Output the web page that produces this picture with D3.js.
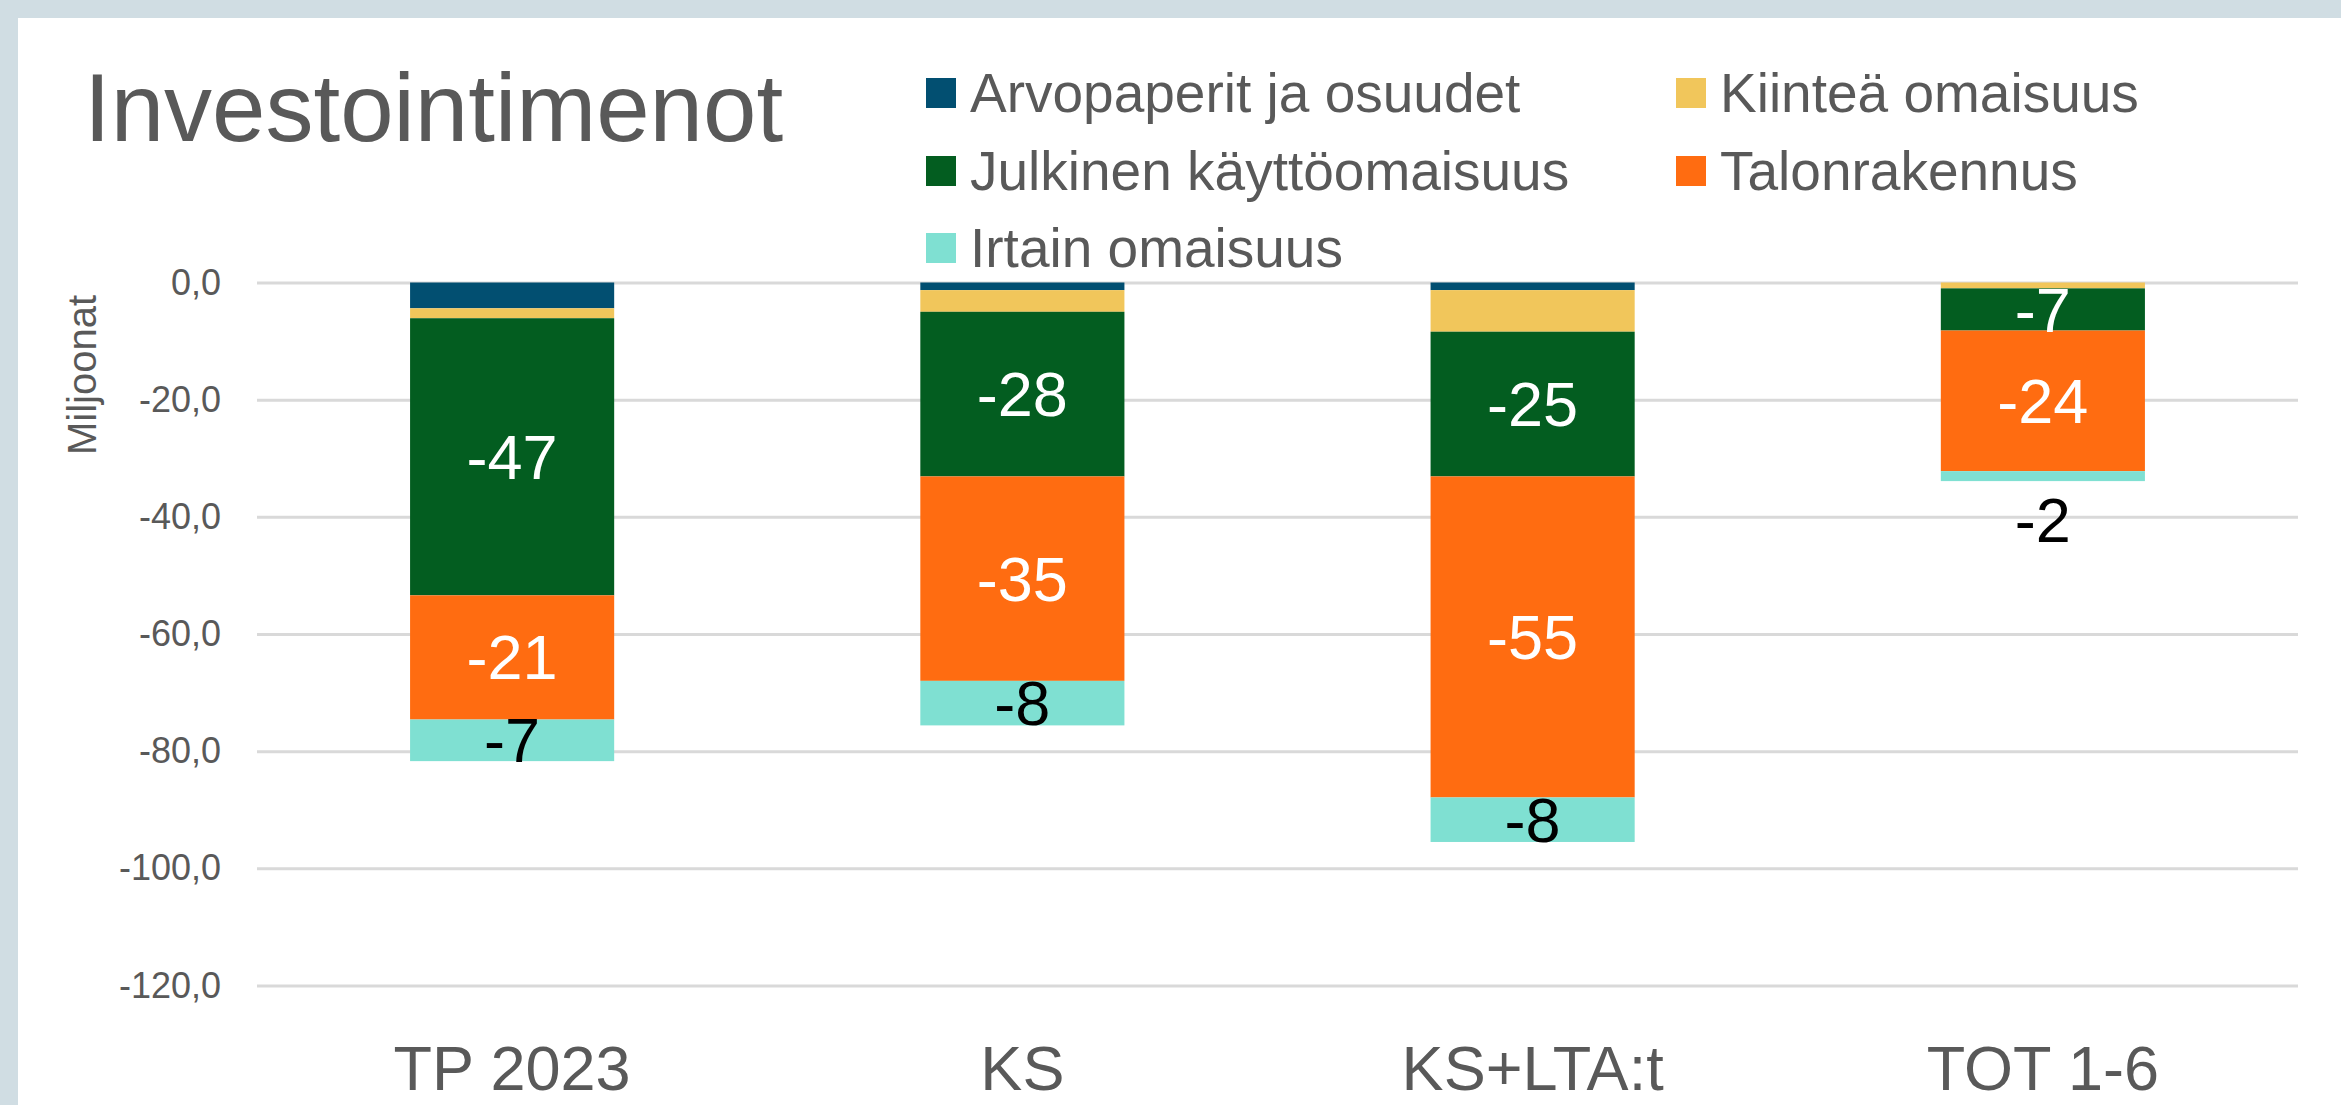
<!DOCTYPE html>
<html>
<head>
<meta charset="utf-8">
<script src="https://cdn.jsdelivr.net/npm/d3@7"></script>
<style>
  body { margin: 0; background: #d0dde3; }
  svg { display: block; font-family: "Liberation Sans", Arial, sans-serif; }
</style>
</head>
<body>
<div id="my_dataviz"></div>
<script>
// categories and series
var categories = ["TP 2023", "KS", "KS+LTA:t", "TOT 1-6"];
var seriesNames = ["Arvopaperit ja osuudet", "Kiinteä omaisuus", "Julkinen käyttöomaisuus", "Talonrakennus", "Irtain omaisuus"];
var seriesColors = ["#024f71", "#f1c65b", "#035d20", "#ff6c11", "#7fe0d2"];

// values per series (millions), one per category
var arvopaperit = [-4.4, -1.3, -1.3, 0];
var kiintea = [-1.7, -3.7, -7.1, -1.0];
var julkinen = [-47.3, -28.1, -24.7, -7.2];
var talonrakennus = [-21.2, -34.9, -54.8, -24.0];
var irtain = [-7.1, -7.6, -7.6, -1.7];

var yTicks = [0, -20, -40, -60, -80, -100, -120];

var W = 2341, H = 1105;
var margin = { top: 282.5, right: 43, bottom: 119.5, left: 257 },
    width = W - margin.left - margin.right,
    height = H - margin.top - margin.bottom;

var allValues = [arvopaperit, kiintea, julkinen, talonrakennus, irtain];
var rows = categories.map(function (c, i) {
    var r = { cat: c };
    seriesNames.forEach(function (s, j) { r[s] = allValues[j][i]; });
    return r;
});

var svgRoot = d3.select("#my_dataviz")
    .append("svg")
    .attr("width", W)
    .attr("height", H);

// white panel
svgRoot.append("rect")
    .attr("x", 18).attr("y", 18)
    .attr("width", W - 18).attr("height", H - 18)
    .attr("fill", "#ffffff");

// title
svgRoot.append("text")
    .attr("x", 84).attr("y", 141)
    .attr("font-size", 96)
    .attr("fill", "#595959")
    .text("Investointimenot");

// legend
var legendPos = [[926, 93], [1676, 93], [926, 171], [1676, 171], [926, 248]];
var legend = svgRoot.append("g").selectAll("g")
    .data(seriesNames)
    .enter()
    .append("g")
    .attr("transform", function (d, i) { return "translate(" + legendPos[i][0] + "," + legendPos[i][1] + ")"; });
legend.append("rect")
    .attr("x", 0).attr("y", -15)
    .attr("width", 30).attr("height", 30)
    .attr("fill", function (d, i) { return seriesColors[i]; });
legend.append("text")
    .attr("x", 44).attr("y", 19)
    .attr("font-size", 55)
    .attr("fill", "#595959")
    .text(function (d) { return d; });

var svg = svgRoot.append("g")
    .attr("transform", "translate(" + margin.left + "," + margin.top + ")");

var x = d3.scaleBand()
    .domain(categories)
    .range([0, width])
    .paddingInner(0.6)
    .paddingOuter(0.3);

var y = d3.scaleLinear()
    .domain([-120, 0])
    .range([height, 0]);

var fi = d3.formatLocale({ decimal: ",", thousands: " ", grouping: [3], currency: ["", "€"], minus: "-" });
var fmt = fi.format(".1f");

// gridlines + y labels
var yAxis = svg.append("g")
    .call(d3.axisLeft(y).tickValues(yTicks).tickSize(-width).tickPadding(36).tickFormat(fmt));
yAxis.select(".domain").remove();
yAxis.selectAll(".tick line").attr("stroke", "#d9d9d9").attr("stroke-width", 3);
yAxis.selectAll(".tick text")
    .attr("font-size", 36)
    .attr("font-family", "Liberation Sans, Arial, sans-serif")
    .attr("fill", "#595959");

// y title
svgRoot.append("text")
    .attr("transform", "translate(96,375) rotate(-90)")
    .attr("text-anchor", "middle")
    .attr("font-size", 40)
    .attr("fill", "#595959")
    .text("Miljoonat");

// x labels
var xAxis = svg.append("g")
    .attr("transform", "translate(0," + height + ")")
    .call(d3.axisBottom(x).tickSize(0).tickPadding(0));
xAxis.select(".domain").remove();
xAxis.selectAll(".tick text")
    .attr("y", 104)
    .attr("dy", 0)
    .attr("font-size", 63)
    .attr("font-family", "Liberation Sans, Arial, sans-serif")
    .attr("fill", "#595959");

// stacked bars
var stacked = d3.stack()
    .keys(seriesNames)
    .offset(d3.stackOffsetDiverging)(rows);

var layers = svg.append("g").selectAll("g")
    .data(stacked)
    .enter()
    .append("g")
    .attr("fill", function (d, i) { return seriesColors[i]; });

layers.selectAll("rect")
    .data(function (d) { return d; })
    .enter()
    .append("rect")
    .attr("x", function (d) { return x(d.data.cat); })
    .attr("y", function (d) { return y(Math.max(d[0], d[1])); })
    .attr("width", x.bandwidth())
    .attr("height", function (d) { return Math.abs(y(d[0]) - y(d[1])); });

// data labels (only the three largest series)
var labelled = [2, 3, 4];
labelled.forEach(function (si) {
    var layer = stacked[si];
    svg.append("g").selectAll("text")
        .data(layer)
        .enter()
        .append("text")
        .attr("x", function (d) { return x(d.data.cat) + x.bandwidth() / 2; })
        .attr("y", function (d) {
            var top = y(Math.max(d[0], d[1])), bot = y(Math.min(d[0], d[1]));
            if (bot - top < 30) return bot + 39;
            return (top + bot) / 2;
        })
        .attr("dy", "0.35em")
        .attr("text-anchor", "middle")
        .attr("font-size", 63)
        .attr("fill", si === 4 ? "#000000" : "#ffffff")
        .text(function (d) { return Math.round(d.data[layer.key]); });
});
</script>
</body>
</html>
